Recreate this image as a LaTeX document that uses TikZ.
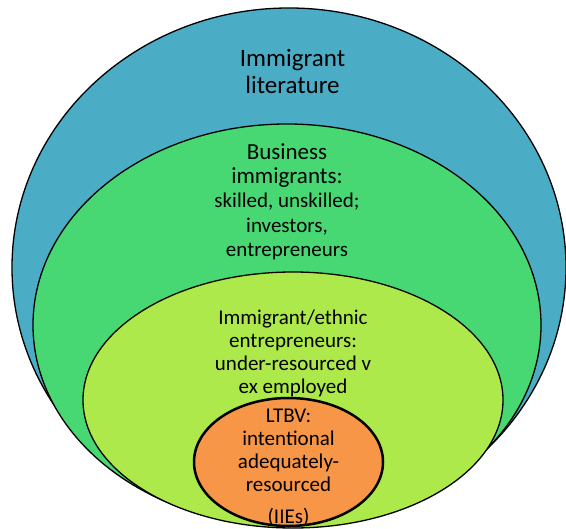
\documentclass[tikz,border=0pt]{standalone}
\usepackage{fontspec}
\setmainfont{Carlito}
\usetikzlibrary{shapes.geometric}
\definecolor{cblue}{HTML}{4BACC6}
\definecolor{cgreen}{HTML}{48D873}
\definecolor{clime}{HTML}{ADE94A}
\definecolor{corange}{HTML}{F79646}
\begin{document}
\begin{tikzpicture}[x=1bp,y=-1bp,
  ring/.style={ellipse, draw=black, line width=1.3bp, inner sep=0pt, outer sep=0pt},
  lbl/.style={align=center, anchor=base, inner sep=0pt, text=black}]
\useasboundingbox (0,0) rectangle (566,529);
\node[ring, fill=cblue, minimum width=554bp, minimum height=519bp] (outer) at (289,267.5) {};
\node[ring, fill=cgreen, minimum width=508bp, minimum height=402bp] (business) at (287,325) {};
\node[ring, fill=clime, minimum width=420bp, minimum height=256bp] (ethnic) at (293,400) {};
\node[ring, fill=corange, line width=2.5bp, minimum width=189bp, minimum height=128bp] (ltbv) at (288.5,462) {};
\node[lbl, font=\fontsize{25bp}{27bp}\selectfont] (t1) at (292.5,94) {Immigrant\\literature};
\node[lbl, font=\fontsize{21bp}{24bp}\selectfont] (t2) at (287,256) {{\fontsize{23bp}{25bp}\selectfont Business}\\{\fontsize{23bp}{25bp}\selectfont immigrants:}\\skilled, unskilled;\\investors,\\entrepreneurs};
\node[lbl, font=\fontsize{21bp}{23bp}\selectfont] (t3) at (293,393) {Immigrant/ethnic\\entrepreneurs:\\under-resourced v\\ex employed};
\node[lbl, font=\fontsize{21bp}{23bp}\selectfont] (t4) at (288.5,523) {LTBV:\\intentional\\adequately-\\resourced\\[9bp](IIEs)};
\end{tikzpicture}
\end{document}
